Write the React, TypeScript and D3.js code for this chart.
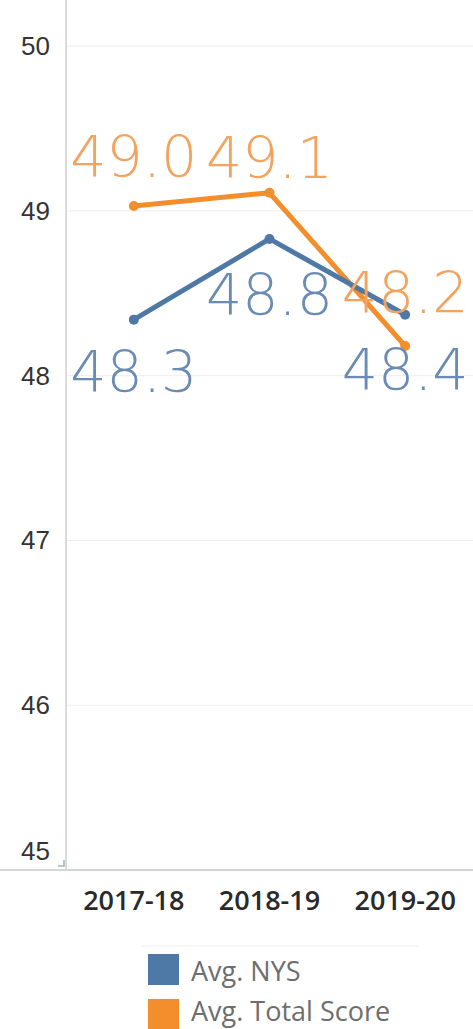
import React from "react";
import * as d3 from "d3";

const categories = ["2017-18", "2018-19", "2019-20"];
const nysValues = [48.34, 48.83, 48.37];
const totalValues = [49.03, 49.11, 48.18];
const nysLabels = ["48.3", "48.8", "48.4"];
const totalLabels = ["49.0", "49.1", "48.2"];
const yTicks = [45, 46, 47, 48, 49, 50];
const legendItems = ["Avg. NYS", "Avg. Total Score"];

// label baseline offsets relative to the point (layout only)
const nysLabelDy = [72, 76, 75];
const totalLabelDy = [-29, -15, -33];

const W = 473;
const H = 1029;
const BLUE = "#4e79a7";
const ORANGE = "#f28e2b";

export default function App() {
  const x = d3.scaleBand<string>().domain(categories).range([66, 473]);
  const y = d3.scaleLinear().domain([45, 50.28]).range([870, 0]);
  const cx = (c: string) => (x(c) as number) + x.bandwidth() / 2;
  const line = d3
    .line<number>()
    .x((_, i) => cx(categories[i]))
    .y((d) => y(d));

  const series = [
    { values: totalValues, labels: totalLabels, dy: totalLabelDy, color: ORANGE, text: "#f2a35e" },
    { values: nysValues, labels: nysLabels, dy: nysLabelDy, color: BLUE, text: "#6a8cb4" },
  ];

  return (
    <svg
      width={W}
      height={H}
      style={{ position: "absolute", left: 0, top: 0, background: "#fff" }}
      fontFamily="'Open Sans', 'Noto Sans', sans-serif"
    >
      {/* gridlines */}
      {yTicks.map((t) => (
        <line key={"g" + t} x1={66} x2={W} y1={y(t)} y2={y(t)} stroke="#ededed" strokeWidth={1} />
      ))}
      {/* axes */}
      <line x1={66} x2={66} y1={0} y2={870} stroke="#cfcfcf" strokeWidth={1.5} />
      <line x1={0} x2={W} y1={870} y2={870} stroke="#c8c8c8" strokeWidth={1.5} />
      <path d="M58,866 L64,866 L64,860" stroke="#9fb8a8" strokeWidth={1.5} fill="none" />
      {/* y tick labels */}
      {yTicks.map((t) => (
        <text
          key={"t" + t}
          x={50}
          y={t === yTicks[0] ? y(t) - 10 : y(t) + 9}
          textAnchor="end"
          fontSize={26}
          fill="#333"
          fontFamily="'Liberation Sans', Arial, sans-serif"
        >
          {t}
        </text>
      ))}
      {/* x labels */}
      {categories.map((c) => (
        <text key={c} x={cx(c)} y={910} textAnchor="middle" fontSize={27} fontWeight={600} fill="#2a2a2a" fontFamily="'Open Sans', sans-serif">
          {c}
        </text>
      ))}
      {/* lines */}
      {series.map((s, si) => (
        <g key={"s" + si}>
          <path d={line(s.values) || ""} fill="none" stroke={s.color} strokeWidth={5} strokeLinejoin="round" />
          {s.values.map((v, i) => (
            <circle key={i} cx={cx(categories[i])} cy={y(v)} r={5} fill={s.color} />
          ))}
        </g>
      ))}
      {/* data labels */}
      {series.map((s, si) =>
        s.values.map((v, i) => (
          <text
            key={"l" + si + i}
            x={cx(categories[i])}
            y={y(v) + s.dy[i]}
            textAnchor="middle"
            fontSize={57}
            fontWeight={200}
            fontFamily="'DejaVu Sans', sans-serif"
            fill={s.text}
          >
            {s.labels[i]}
          </text>
        ))
      )}
      {/* legend */}
      <line x1={142} x2={418} y1={946} y2={946} stroke="#eeeeee" strokeWidth={1} />
      {legendItems.map((l, i) => (
        <g key={l}>
          <rect x={148} y={954 + i * 45} width={31} height={31} fill={i === 0 ? BLUE : ORANGE} />
          <text x={191} y={981 + i * 40} fontSize={27} fill="#6e6e6e" fontFamily="'Open Sans', sans-serif">
            {l}
          </text>
        </g>
      ))}
    </svg>
  );
}
